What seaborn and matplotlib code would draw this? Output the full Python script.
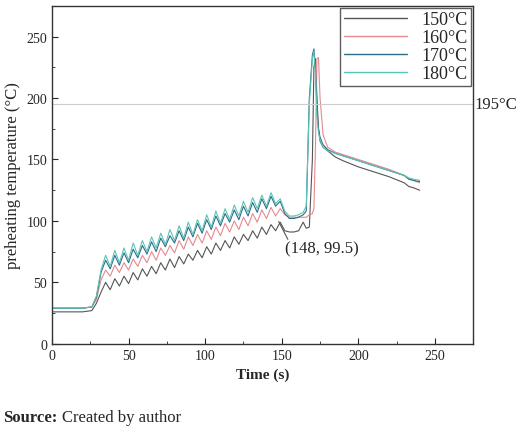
import numpy as np
import pandas as pd
import matplotlib
matplotlib.use("Agg")
import matplotlib.pyplot as plt
import seaborn as sns

sns.set_style("white")
plt.rcParams['font.family'] = ['Liberation Serif', 'DejaVu Serif']

time_s = [0, 10, 20, 26, 29,
          32, 35, 38, 41, 44, 47, 50, 53, 56, 59, 62, 65, 68, 71, 74, 77, 80, 83, 86, 89,
          92, 95, 98, 101, 104, 107, 110, 113, 116, 119, 122, 125, 128, 131, 134, 137, 140, 143, 146, 149,
          152, 155, 158, 161, 164, 166, 168, 170, 171, 172, 173, 174, 175, 177, 180, 185, 190,
          200, 210, 220, 230, 233, 236, 240]

temp_150 = [26, 26, 26, 27, 33,
            42, 50, 44, 53, 47, 55, 49, 58, 52, 61, 55, 63, 57, 66, 60, 69, 62, 71, 65, 73,
            68, 76, 70, 79, 73, 82, 76, 84, 78, 87, 81, 89, 84, 92, 86, 95, 89, 97, 92, 99,
            92, 91, 91, 92, 99, 94, 95, 150, 225, 232, 200, 175, 165, 160, 157, 152, 149,
            144, 140, 136, 131, 128, 127, 125]
temp_160 = [29, 29, 29, 30, 36,
            52, 60, 55, 64, 58, 66, 60, 69, 63, 72, 66, 75, 68, 78, 72, 80, 74, 84, 77, 87,
            80, 89, 82, 92, 85, 95, 88, 98, 91, 100, 93, 103, 96, 106, 99, 109, 102, 111, 104, 110,
            105, 103, 103, 103, 103, 103, 105, 106, 110, 160, 232, 233, 200, 170, 160, 156, 154,
            150, 146, 142, 137, 134, 133, 131]
temp_170 = [29, 29, 29, 30, 38,
            58, 68, 61, 72, 64, 74, 66, 77, 70, 80, 73, 83, 75, 86, 79, 88, 82, 92, 84, 95,
            87, 98, 90, 101, 93, 104, 96, 106, 99, 109, 101, 112, 104, 115, 107, 118, 110, 120, 112, 116,
            106, 102, 102, 103, 105, 108, 200, 235, 240, 225, 190, 175, 168, 162, 158, 155, 153,
            149, 145, 141, 137, 134, 133, 132]
temp_180 = [29, 29, 29, 30, 39,
            60, 72, 63, 76, 66, 78, 68, 82, 72, 84, 75, 87, 78, 90, 81, 93, 84, 96, 86, 99,
            89, 101, 92, 105, 95, 108, 98, 110, 101, 113, 104, 116, 107, 119, 110, 121, 112, 123, 114, 118,
            108, 104, 104, 105, 107, 112, 195, 232, 238, 220, 185, 172, 166, 160, 157, 155, 153,
            149, 145, 141, 137, 135, 134, 133]
labels = ["150°C", "160°C", "170°C", "180°C"]
colors = ["#555555", "#e8888f", "#2e6a8a", "#5cc4b4"]

df = pd.concat([pd.DataFrame({"t": time_s, "T": v, "s": lab})
                for v, lab in zip([temp_150, temp_160, temp_170, temp_180], labels)])

fig = plt.figure(figsize=(5.2, 4.31), dpi=100)
ax = fig.add_axes([0.1, 0.2, 0.81, 0.784])
sns.lineplot(data=df, x="t", y="T", hue="s", palette=colors, linewidth=0.8, ax=ax, sort=False)
ax.axhline(195, color="#cccccc", lw=0.8)
ax.text(276, 195, "195°C", fontsize=12, va="center", ha="left")
ax.plot([148, 154], [99.5, 85], color="#555555", lw=0.8)
ax.text(152, 74, "(148, 99.5)", fontsize=12)
ax.set_xlim(0, 275)
ax.set_ylim(0, 275)
ax.set_xticks([0, 50, 100, 150, 200, 250])
ax.set_yticks([0, 50, 100, 150, 200, 250])
ax.set_xticks(np.arange(25, 275, 50), minor=True)
ax.set_yticks(np.arange(25, 275, 50), minor=True)
ax.tick_params(which="major", direction="in", length=4, labelsize=10, bottom=True, left=True)
ax.tick_params(which="minor", direction="in", length=2, bottom=True, left=True)
for s in ax.spines.values():
    s.set_color("#333333"); s.set_linewidth(1)
ax.set_xlabel("Time (s)", fontsize=11, fontweight="bold")
ax.set_ylabel("preheating temperature (°C)", fontsize=12)
leg = ax.legend(loc="upper right", fontsize=13, frameon=True, fancybox=False,
                edgecolor="#333333", borderpad=0.2, handlelength=3.5, labelspacing=0.05,
                borderaxespad=0.1)
for line in leg.get_lines():
    line.set_linewidth(1.0)
fig.text(0.005, 0.02, "Source:", fontsize=12, fontweight="bold")
fig.text(0.12, 0.02, "Created by author", fontsize=12)
fig.savefig("out.png", dpi=100)
